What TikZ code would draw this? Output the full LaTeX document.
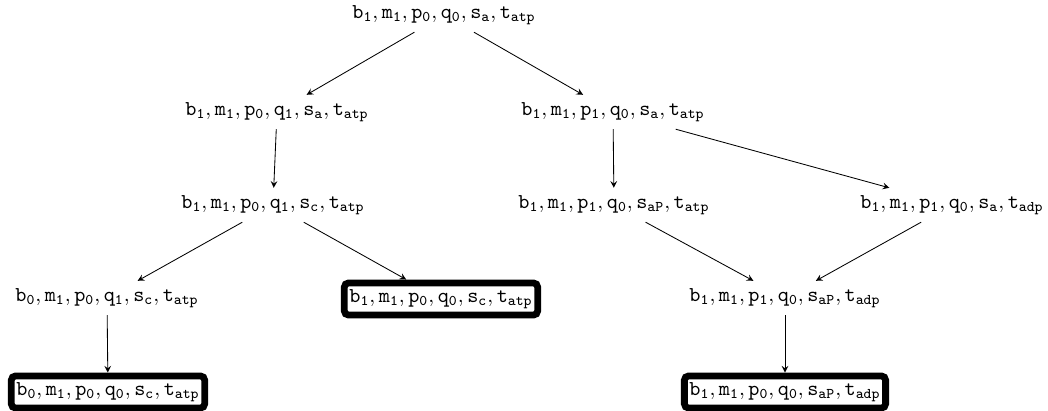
\documentclass[tikz,border=0pt]{standalone}
\newcommand{\cfg}[6]{$\mathtt{b_{#1}, m_{#2}, p_{#3}, q_{#4}, s_{#5}, t_{#6}}$}
\begin{document}
\begin{tikzpicture}[>=stealth, x=0.472pt, y=-0.472pt,
    goal/.style={draw, line width=3.2pt, rounded corners=2pt, inner xsep=2.4pt, inner ysep=3pt}]
\useasboundingbox (0,0) rectangle (1048,410);
\node (root) at (444,15) {\cfg{1}{1}{0}{0}{a}{atp}};
\node (q) at (277,112) {\cfg{1}{1}{0}{1}{a}{atp}};
\node (p) at (613,112) {\cfg{1}{1}{1}{0}{a}{atp}};
\node (qs) at (273,205) {\cfg{1}{1}{0}{1}{c}{atp}};
\node (ps) at (614,205) {\cfg{1}{1}{1}{0}{aP}{atp}};
\node (pt) at (952,205) {\cfg{1}{1}{1}{0}{a}{adp}};
\node (qsb) at (107,298) {\cfg{0}{1}{0}{1}{c}{atp}};
\node[goal] (qsq) at (441,299) {\cfg{1}{1}{0}{0}{c}{atp}};
\node (pst) at (785,298) {\cfg{1}{1}{1}{0}{aP}{adp}};
\node[goal] (qsbq) at (108,392) {\cfg{0}{1}{0}{0}{c}{atp}};
\node[goal] (pstp) at (785,392) {\cfg{1}{1}{0}{0}{aP}{adp}};
\draw[->] (root)--(q);
\draw[->] (root)--(p);
\draw[->] (q)--(qs);
\draw[->] (p)--(ps);
\draw[->] (p)--(pt);
\draw[->] (qs)--(qsb);
\draw[->] (qs)--(qsq);
\draw[->] (ps)--(pst);
\draw[->] (pt)--(pst);
\draw[->] (qsb)--(qsbq);
\draw[->] (pst)--(pstp);
\end{tikzpicture}
\end{document}
